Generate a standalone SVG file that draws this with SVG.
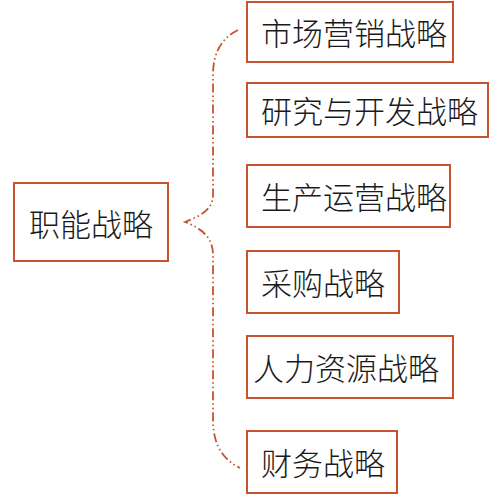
<svg xmlns="http://www.w3.org/2000/svg" width="498" height="500" viewBox="0 0 498 500">
<style>
.box{fill:#fff;stroke:#c8532f;stroke-width:2}
.t{font-family:"Noto Sans CJK SC","Noto Sans CJK JP",sans-serif;font-size:31px;font-weight:300;fill:#1a1a1a;dominant-baseline:central}
.brace{fill:none;stroke:#c8532f;stroke-width:1.8;stroke-dasharray:9 3 1.5 3 1.5 3}
</style>
<rect width="498" height="500" fill="#fff"/>
<g id="connectors">
<path class="brace" d="M238,30 C222,38 213,52 213,75 L213,195 C213,210 200,216 185,222 C200,228 213,236 213,255 L213,420 C213,446 224,460 240,468"/>
</g>
<g id="n0"><rect class="box" x="14" y="183" width="154" height="78"/><text class="t" x="29" y="222">职能战略</text></g>
<g id="n1"><rect class="box" x="247" y="2" width="206" height="60"/><text class="t" x="261" y="31">市场营销战略</text></g>
<g id="n2"><rect class="box" x="247" y="83" width="241" height="54"/><text class="t" x="261" y="109">研究与开发战略</text></g>
<g id="n3"><rect class="box" x="247" y="165" width="203" height="62"/><text class="t" x="261" y="195">生产运营战略</text></g>
<g id="n4"><rect class="box" x="247" y="251" width="152" height="62"/><text class="t" x="261" y="281">采购战略</text></g>
<g id="n5"><rect class="box" x="247" y="336" width="206" height="62"/><text class="t" x="253" y="366">人力资源战略</text></g>
<g id="n6"><rect class="box" x="247" y="431" width="150" height="62"/><text class="t" x="261" y="461">财务战略</text></g>
</svg>
